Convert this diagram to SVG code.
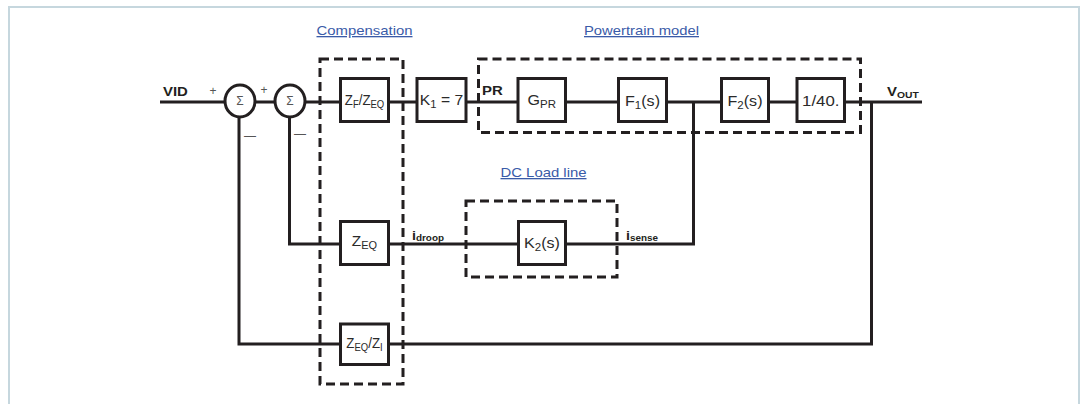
<svg xmlns="http://www.w3.org/2000/svg" width="1086" height="404" viewBox="0 0 1086 404">
<defs>
<style>
.frame{fill:#fff;stroke:#c6d7de;stroke-width:2}
.box{fill:#fff;stroke:#231f20;stroke-width:3}
.grp{fill:none;stroke:#231f20;stroke-width:3;stroke-dasharray:9 5}
.wire{fill:none;stroke:#231f20;stroke-width:3}
.sum{fill:#fff;stroke:#231f20;stroke-width:3}
.lbl{font-family:"Liberation Sans",Arial,sans-serif;font-size:14px;fill:#2a2a2a}
.sub{font-size:10px}
.bold{font-weight:bold;font-size:13px;fill:#231f20}
.bsub{font-size:9px}
.sig{font-family:"Liberation Sans",Arial,sans-serif;font-size:12px;fill:#555}
.title{font-family:"Liberation Sans",Arial,sans-serif;font-size:13px;fill:#3a5ba8;text-decoration:underline}
</style>
</defs>
<rect class="frame" x="9" y="7" width="1070" height="420"/>

<g id="connectors">
<polyline class="wire" points="160,102 922,102"/>
<polyline class="wire" points="239,116 239,344 871.5,344 871.5,102"/>
<polyline class="wire" points="289.5,116 289.5,244 693.5,244 693.5,102"/>
</g>

<g id="group-compensation">
<rect class="grp" x="320" y="59" width="83" height="325"/>
<text class="title" x="316.5" y="35" textLength="96" lengthAdjust="spacingAndGlyphs">Compensation</text>
</g>
<g id="group-powertrain">
<rect class="grp" x="478.5" y="59" width="382" height="73.5"/>
<text class="title" x="584" y="35" textLength="115" lengthAdjust="spacingAndGlyphs">Powertrain model</text>
</g>
<g id="group-dcload">
<rect class="grp" x="466" y="201" width="151" height="76"/>
<text class="title" x="500.5" y="177" textLength="86" lengthAdjust="spacingAndGlyphs">DC Load line</text>
</g>

<g id="input-vid">
<text class="lbl bold" transform="translate(163,96) scale(1.15,1)">VID</text>
</g>
<g id="sum1">
<ellipse class="sum" cx="240" cy="101" rx="15" ry="16"/>
<text class="sig" x="240" y="105" text-anchor="middle">Σ</text>
<text class="sig" x="213" y="95" text-anchor="middle">+</text>
<text class="sig" x="250" y="140" text-anchor="middle">—</text>
</g>
<g id="sum2">
<ellipse class="sum" cx="290" cy="101" rx="15" ry="16"/>
<text class="sig" x="290" y="105" text-anchor="middle">Σ</text>
<text class="sig" x="264" y="94" text-anchor="middle">+</text>
<text class="sig" x="300" y="138" text-anchor="middle">—</text>
</g>

<g id="zf-zeq">
<rect class="box" x="340.5" y="78.5" width="48" height="43"/>
<text class="lbl" text-anchor="middle" transform="translate(364.5,105) scale(0.95,1)">Z<tspan class="sub" dy="3">F</tspan><tspan dy="-3">/Z</tspan><tspan class="sub" dy="3">EQ</tspan></text>
</g>
<g id="k1">
<rect class="box" x="417" y="78.5" width="49" height="43"/>
<text class="lbl" text-anchor="middle" transform="translate(441.5,105) scale(1.12,1)">K<tspan class="sub" dy="3">1</tspan><tspan dy="-3"> = 7</tspan></text>
</g>
<g id="pr-label">
<text class="lbl bold" transform="translate(482,95) scale(1.15,1)">PR</text>
</g>
<g id="gpr">
<rect class="box" x="518" y="78.5" width="47.5" height="43"/>
<text class="lbl" text-anchor="middle" transform="translate(541.75,105) scale(1.15,1)">G<tspan class="sub" dy="3">PR</tspan></text>
</g>
<g id="f1">
<rect class="box" x="618.5" y="78.5" width="48" height="43"/>
<text class="lbl" text-anchor="middle" transform="translate(642.5,105.5) scale(1.15,1)">F<tspan class="sub" dy="3">1</tspan><tspan dy="-3">(s)</tspan></text>
</g>
<g id="f2">
<rect class="box" x="721.5" y="78.5" width="47" height="43"/>
<text class="lbl" text-anchor="middle" transform="translate(745,105.5) scale(1.15,1)">F<tspan class="sub" dy="3">2</tspan><tspan dy="-3">(s)</tspan></text>
</g>
<g id="div40">
<rect class="box" x="797" y="78.5" width="47.5" height="43"/>
<text class="lbl" text-anchor="middle" transform="translate(820.75,105.5) scale(1.2,1)">1/40.</text>
</g>
<g id="vout">
<text class="lbl bold" transform="translate(887,96) scale(1.15,1)">V<tspan class="bsub" dy="2">OUT</tspan></text>
</g>

<g id="zeq">
<rect class="box" x="340.5" y="221.5" width="48" height="43"/>
<text class="lbl" text-anchor="middle" transform="translate(364.5,246) scale(1.1,1)">Z<tspan class="sub" dy="3">EQ</tspan></text>
</g>
<g id="idroop">
<text class="lbl bold" transform="translate(412,240) scale(1.1,1)">i<tspan class="bsub" dy="1">droop</tspan></text>
</g>
<g id="k2">
<rect class="box" x="518.5" y="221.5" width="47" height="43"/>
<text class="lbl" text-anchor="middle" transform="translate(542,248) scale(1.15,1)">K<tspan class="sub" dy="3">2</tspan><tspan dy="-3">(s)</tspan></text>
</g>
<g id="isense">
<text class="lbl bold" transform="translate(626,240) scale(1.1,1)">i<tspan class="bsub" dy="1">sense</tspan></text>
</g>
<g id="zeq-zi">
<rect class="box" x="340.5" y="324" width="48" height="40.5"/>
<text class="lbl" text-anchor="middle" transform="translate(364.5,348) scale(0.95,1)">Z<tspan class="sub" dy="3">EQ</tspan><tspan dy="-3">/Z</tspan><tspan class="sub" dy="3">I</tspan></text>
</g>
</svg>
